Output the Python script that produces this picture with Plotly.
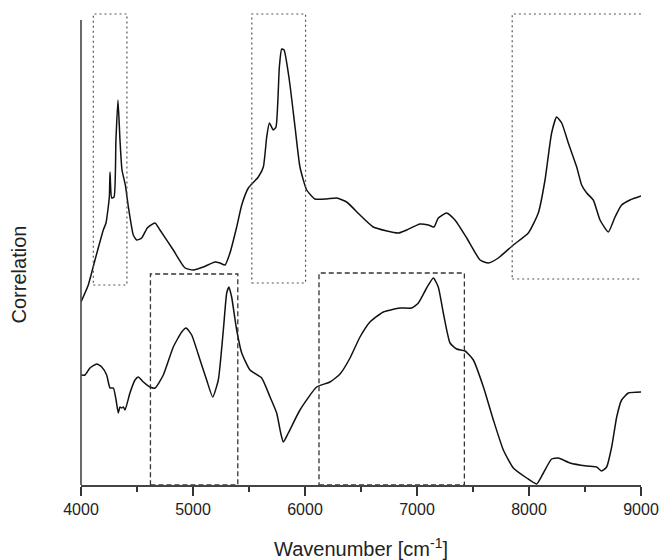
import plotly.graph_objects as go

# Wavenumber grid points and correlation traces (arbitrary correlation units)
wn_upper = [4000, 4065, 4125, 4199, 4223, 4253, 4259, 4274, 4295, 4312, 4330, 4348, 4366,
            4396, 4423, 4467, 4497, 4542, 4592, 4661, 4705, 4824, 4929, 5003, 5092, 5196,
            5241, 5286, 5330, 5390, 5435, 5494, 5583, 5628, 5658, 5682, 5717, 5741, 5771,
            5792, 5813, 5860, 5911, 5955, 6015, 6089, 6193, 6283, 6372, 6491, 6610, 6833,
            6908, 7027, 7101, 7152, 7190, 7265, 7339, 7444, 7563, 7637, 7726, 7860, 7994,
            8083, 8143, 8202, 8247, 8292, 8351, 8426, 8470, 8515, 8574, 8634, 8708, 8768,
            8827, 8902, 9000]
corr_upper = [183, 200, 225, 255, 262, 288, 313, 287, 288, 345, 385, 345, 315,
              300, 278, 250, 245, 247, 257, 262, 255, 235, 217, 215, 218, 223,
              222, 220, 232, 258, 280, 297, 308, 318, 348, 362, 355, 358, 418,
              436, 435, 405, 358, 318, 295, 286, 286, 287, 283, 270, 258, 252,
              255, 261, 260, 258, 267, 272, 265, 247, 225, 222, 227, 240, 252,
              272, 305, 352, 368, 362, 342, 318, 300, 292, 285, 265, 253, 268,
              280, 285, 289]

wn_lower = [4000, 4036, 4080, 4140, 4185, 4229, 4259, 4289, 4313, 4333, 4348, 4363, 4378,
            4393, 4437, 4482, 4512, 4557, 4616, 4661, 4735, 4824, 4899, 4938, 4988, 5063,
            5122, 5176, 5226, 5271, 5301, 5321, 5345, 5390, 5435, 5509, 5613, 5688, 5747,
            5783, 5807, 5851, 5955, 6104, 6223, 6313, 6402, 6491, 6580, 6699, 6848, 6952,
            7012, 7086, 7146, 7190, 7235, 7295, 7354, 7429, 7503, 7593, 7682, 7771, 7860,
            7979, 8068, 8128, 8202, 8262, 8366, 8515, 8604, 8649, 8693, 8738, 8783, 8827,
            8887, 9000]
corr_lower = [110, 110, 117, 121, 118, 110, 97, 97, 85, 72, 78, 77, 78,
              75, 92, 105, 108, 103, 98, 97, 110, 138, 153, 157, 150, 125,
              105, 88, 105, 155, 192, 198, 188, 155, 132, 115, 107, 88, 72,
              52, 43, 52, 75, 98, 103, 111, 127, 148, 163, 173, 177, 177,
              182, 197, 207, 198, 172, 142, 136, 134, 125, 98, 65, 35, 17,
              7, 1, 12, 26, 27, 22, 19, 18, 14, 18, 38, 68, 85,
              92, 93]

# Highlighted spectral regions: (start, end, low, high)
regions_upper = [(4110, 4410, 200, 471), (5525, 6005, 202, 471), (7850, 9005, 206, 471)]
regions_lower = [(4620, 5400, 0, 211), (6125, 7423, 0, 212)]

x_ticks = [4000, 5000, 6000, 7000, 8000, 9000]

FONT = "Liberation Sans, Arial, sans-serif"

fig = go.Figure()
for wn, corr in [(wn_upper, corr_upper), (wn_lower, corr_lower)]:
    fig.add_trace(go.Scatter(
        x=wn, y=corr, mode="lines",
        line=dict(color="#111111", width=1.5, shape="spline", smoothing=0.5),
        showlegend=False, hoverinfo="skip",
    ))

shapes = []
for x0, x1, y0, y1 in regions_upper:
    shapes.append(dict(type="rect", xref="x", yref="y", x0=x0, x1=x1, y0=y0, y1=y1,
                       line=dict(color="#555555", width=1.2, dash="2px,3px")))
for x0, x1, y0, y1 in regions_lower:
    shapes.append(dict(type="rect", xref="x", yref="y", x0=x0, x1=x1, y0=y0, y1=y1,
                       line=dict(color="#333333", width=1.3, dash="5px,3px")))
# left axis line (shorter than the plotting area)
shapes.append(dict(type="line", xref="paper", yref="y", x0=0, x1=0, y0=0, y1=465,
                   line=dict(color="#444444", width=1.6)))

fig.update_layout(
    width=661, height=560,
    autosize=False,
    margin=dict(l=81, r=20, t=12, b=75, autoexpand=False),
    paper_bgcolor="white", plot_bgcolor="white",
    shapes=shapes,
    xaxis=dict(
        range=[4000, 9000], tickvals=x_ticks, ticktext=[str(t) for t in x_ticks],
        ticks="outside", ticklen=9, tickwidth=1.5, tickcolor="#333333",
        showline=True, linecolor="#444444", linewidth=1.6,
        showgrid=False, zeroline=False, automargin=False,
        tickfont=dict(family=FONT, size=16, color="#222222"),
        minor=dict(tickvals=[4500, 5500, 6500, 7500, 8500], ticks="outside",
                   ticklen=5, tickwidth=1.5, tickcolor="#333333", showgrid=False),
    ),
    yaxis=dict(range=[0, 473], showticklabels=False, ticks="", showline=False,
               showgrid=False, zeroline=False, automargin=False),
    annotations=[
        dict(text="Wavenumber [cm<sup>-1</sup>]", xref="paper", yref="paper",
             x=0.5, y=-0.133, xanchor="center", yanchor="middle", showarrow=False,
             font=dict(family=FONT, size=20, color="#222222")),
        dict(text="Correlation", xref="paper", yref="paper", textangle=-90,
             x=-0.11, y=0.446, xanchor="center", yanchor="middle", showarrow=False,
             font=dict(family=FONT, size=20, color="#222222")),
    ],
)

fig.write_html("out.html")
